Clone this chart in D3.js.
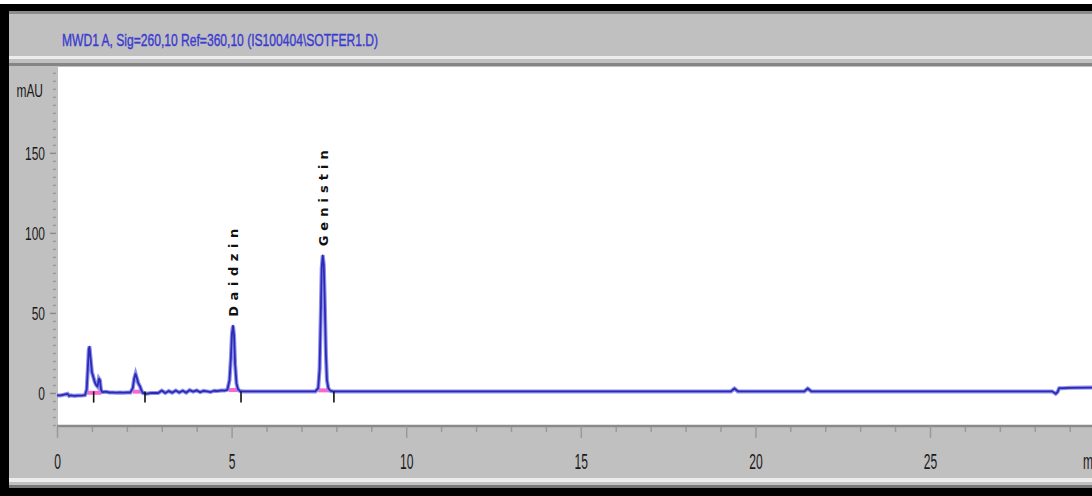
<!DOCTYPE html>
<html>
<head>
<meta charset="utf-8">
<script src="https://cdn.jsdelivr.net/npm/d3@7"></script>
<style>
  body { margin: 0; background: #fff; }
  svg { display: block; }
</style>
</head>
<body>
<script>
// retention time (min) and signal (mAU)
const rt = [0, 0.1, 0.2, 0.3, 0.35, 0.4, 0.5, 0.6, 0.7, 0.8, 0.85, 0.88, 0.91, 0.93, 0.96, 1.0, 1.04, 1.08, 1.12, 1.16, 1.2, 1.23, 1.26, 1.3,
  1.4, 1.5, 1.6, 1.7, 1.8, 1.9, 2.0, 2.1, 2.17, 2.21, 2.25, 2.29, 2.33, 2.38, 2.42, 2.46, 2.55, 2.7, 2.9,
  3.0, 3.1, 3.2, 3.3, 3.4, 3.5, 3.6, 3.7, 3.8, 3.9, 4.0, 4.1, 4.2, 4.3, 4.4, 4.5, 4.6, 4.7, 4.8,
  4.88, 4.94, 4.98, 5.01, 5.04, 5.07, 5.1, 5.14, 5.18, 5.24, 5.35, 5.6, 6.0, 6.5, 7.0, 7.4,
  7.48, 7.52, 7.55, 7.58, 7.61, 7.64, 7.67, 7.7, 7.73, 7.77, 7.82, 7.9, 8.0, 9, 12, 15, 18,
  19.3, 19.4, 19.5, 21.4, 21.5, 21.6, 24, 27, 28.5, 28.6, 28.65, 28.7, 28.8, 29, 30];
const mau = [-1.5, -1.5, -1, -0.5, -1.8, -1.5, -1.8, -1.6, -1.6, -1.4, 2, 14, 27, 29, 22, 13, 10, 7, 5, 4, 9, 8, 2, 0.5,
  0.8, 0.3, 0.3, 0.2, 0.3, 0.2, 0.3, 0.3, 3, 9, 12, 9, 6, 4, 1.5, 0, -0.5, 0, 0,
  1.5, 0, 1.2, 0.2, 1.5, 0.3, 1.4, 0.2, 1.8, 0.8, 1.6, 0.5, 1.3, 1.0, 0.6, 1.4, 1.2, 1.6, 1.5,
  2, 8, 22, 37, 42, 36, 18, 6, 2.5, 1.2, 1, 1, 1, 1, 1, 1,
  3, 15, 45, 78, 86, 80, 55, 25, 8, 3, 1.5, 1, 1, 1, 1, 1, 1,
  1, 2.8, 1, 1, 2.8, 1, 1, 1, 1, -0.5, 0.5, 3, 3, 3.2, 3.5];

// named peaks
const peakNames = ["Daidzin", "Genistin"];
const peakTimes = [5.04, 7.61];
const peakHeights = [42, 86];

// integration baselines (start, end, level) and event marks
const baseStart = [0.85, 2.17, 4.92, 7.48];
const baseEnd = [1.26, 2.45, 5.2, 7.84];
const baseLevel = [-0.5, 0.2, 1.2, 1.0];
const eventTimes = [1.05, 2.52, 5.27, 7.93];

const yMajor = [0, 50, 100, 150];
const xMajor = [0, 5, 10, 15, 20, 25];
const title = "MWD1 A, Sig=260,10 Ref=360,10 (IS100404\\SOTFER1.D)";

const W = 1092, H = 496;

const svg = d3.select("body")
  .append("svg")
  .attr("width", W)
  .attr("height", H);

// panel frame
svg.append("rect").attr("width", W).attr("height", H).attr("fill", "#c0c0c0");
svg.append("rect").attr("x", 0).attr("y", 4).attr("width", W).attr("height", 7).attr("fill", "#000");
svg.append("rect").attr("x", 0).attr("y", 0).attr("width", W).attr("height", 4).attr("fill", "#fff");
svg.append("rect").attr("x", 0).attr("y", 4).attr("width", 9).attr("height", H).attr("fill", "#000");
svg.append("rect").attr("x", 9).attr("y", 11).attr("width", W).attr("height", 3).attr("fill", "#8c8c8c");
svg.append("rect").attr("x", 9).attr("y", 56).attr("width", W).attr("height", 3).attr("fill", "#ededed");
svg.append("rect").attr("x", 9).attr("y", 63).attr("width", W).attr("height", 3).attr("fill", "#858585");
svg.append("rect").attr("x", 9).attr("y", 478).attr("width", W).attr("height", 4).attr("fill", "#ececec");
svg.append("rect").attr("x", 9).attr("y", 485).attr("width", W).attr("height", 3).attr("fill", "#777");
svg.append("rect").attr("x", 0).attr("y", 488).attr("width", W).attr("height", 8).attr("fill", "#000");

svg.append("text")
  .attr("x", 62)
  .attr("y", 46)
  .attr("font-family", "Liberation Sans, Arial, sans-serif")
  .attr("font-size", 17)
  .attr("stroke", "#3b3bd0")
  .attr("stroke-width", 0.4)
  .attr("fill", "#3b3bd0")
  .attr("textLength", 316)
  .attr("lengthAdjust", "spacingAndGlyphs")
  .text(title);

const x = d3.scaleLinear().domain([0, 30]).range([57, 57 + 30 * 34.92]);
const y = d3.scaleLinear().domain([-20, 203]).range([425, 68]);

svg.append("rect")
  .attr("x", 58).attr("y", 67)
  .attr("width", W - 58).attr("height", 358)
  .attr("fill", "#fff");

// x axis
const minorX = d3.range(1, 30).filter(function (d) { return d % 5 !== 0; });
const gxMinor = svg.append("g")
  .attr("transform", "translate(0,426)")
  .call(d3.axisBottom(x).tickValues(minorX).tickSize(6).tickFormat(""));
const gx = svg.append("g")
  .attr("transform", "translate(0,426)")
  .call(d3.axisBottom(x).tickValues(xMajor).tickSize(12).tickSizeOuter(0));
gx.select(".domain").attr("stroke", "#8a8a8a").attr("stroke-width", 2.5)
  .attr("d", "M57,0H" + W);
gxMinor.select(".domain").remove();
svg.selectAll("g .tick line").attr("stroke", "#9a9a9a").attr("stroke-width", 1.5);
gx.selectAll("text")
  .attr("y", 0).attr("dy", 0)
  .attr("transform", "translate(0,43) scale(0.55,1)")
  .attr("font-family", "Liberation Sans, Arial, sans-serif")
  .attr("font-size", 22)
  .attr("fill", "#1a1a1a");

// axis unit, cut by the right edge as in the source
svg.append("text")
  .attr("transform", "translate(1083,469) scale(0.55,1)")
  .attr("font-family", "Liberation Sans, Arial, sans-serif")
  .attr("font-size", 22)
  .attr("fill", "#1a1a1a")
  .text("min");

// y axis
const minorY = d3.range(-20, 201, 5).filter(function (d) { return yMajor.indexOf(d) < 0; });
const gyMinor = svg.append("g")
  .attr("transform", "translate(56,0)")
  .call(d3.axisLeft(y).tickValues(minorY).tickSize(3).tickFormat(""));
const gy = svg.append("g")
  .attr("transform", "translate(56,0)")
  .call(d3.axisLeft(y).tickValues(yMajor).tickSize(6));
gy.select(".domain").remove();
gyMinor.select(".domain").remove();
gyMinor.selectAll(".tick line").attr("stroke", "#9c9c9c").attr("stroke-width", 1.5);
gy.selectAll(".tick line").attr("stroke", "#8c8c8c").attr("stroke-width", 1.5);
gy.selectAll("text")
  .attr("x", 0).attr("dy", 0)
  .attr("transform", "translate(-11,7) scale(0.63,1)")
  .attr("font-family", "Liberation Sans, Arial, sans-serif")
  .attr("font-size", 19)
  .attr("fill", "#1a1a1a");

svg.append("text")
  .attr("transform", "translate(43," + (y(189) + 7) + ") scale(0.63,1)")
  .attr("text-anchor", "end")
  .attr("font-family", "Liberation Sans, Arial, sans-serif")
  .attr("font-size", 19)
  .attr("fill", "#1a1a1a")
  .text("mAU");

// trace
const plot = svg.append("g");
const pts = rt.map(function (t, i) { return [t, mau[i]]; });
const line = d3.line()
  .x(function (d) { return x(d[0]); })
  .y(function (d) { return y(d[1]); });

// integration baselines
plot.selectAll(".base")
  .data(baseStart)
  .enter().append("line")
  .attr("x1", function (d) { return x(d); })
  .attr("x2", function (d, i) { return x(baseEnd[i]); })
  .attr("y1", function (d, i) { return y(baseLevel[i]) - 1; })
  .attr("y2", function (d, i) { return y(baseLevel[i]) - 1; })
  .attr("stroke", "#ff66cc")
  .attr("stroke-width", 4);

plot.append("path")
  .datum(pts)
  .attr("fill", "none")
  .attr("stroke", "#8f8fe8")
  .attr("stroke-width", 4)
  .attr("d", line);
plot.append("path")
  .datum(pts)
  .attr("fill", "none")
  .attr("stroke", "#2a2ab8")
  .attr("stroke-width", 1.8)
  .attr("stroke-linejoin", "round")
  .attr("d", line);

// event marks
plot.selectAll(".evt")
  .data(eventTimes)
  .enter().append("line")
  .attr("x1", function (d) { return x(d); })
  .attr("x2", function (d) { return x(d); })
  .attr("y1", y(1))
  .attr("y2", y(-6))
  .attr("stroke", "#111")
  .attr("stroke-width", 1.6);

// peak labels
plot.selectAll(".lbl")
  .data(peakNames)
  .enter().append("text")
  .attr("transform", function (d, i) {
    return "translate(" + (x(peakTimes[i]) + 5) + "," + (y(peakHeights[i]) - 9) + ") rotate(-90)";
  })
  .attr("font-family", "DejaVu Sans, sans-serif")
  .attr("font-size", 13)
  .attr("font-weight", "bold")
  .attr("fill", "#111")
  .attr("textLength", function (d, i) { return i === 0 ? 88 : 96; })
  .attr("lengthAdjust", "spacing")
  .text(function (d) { return d; });
</script>
</body>
</html>
